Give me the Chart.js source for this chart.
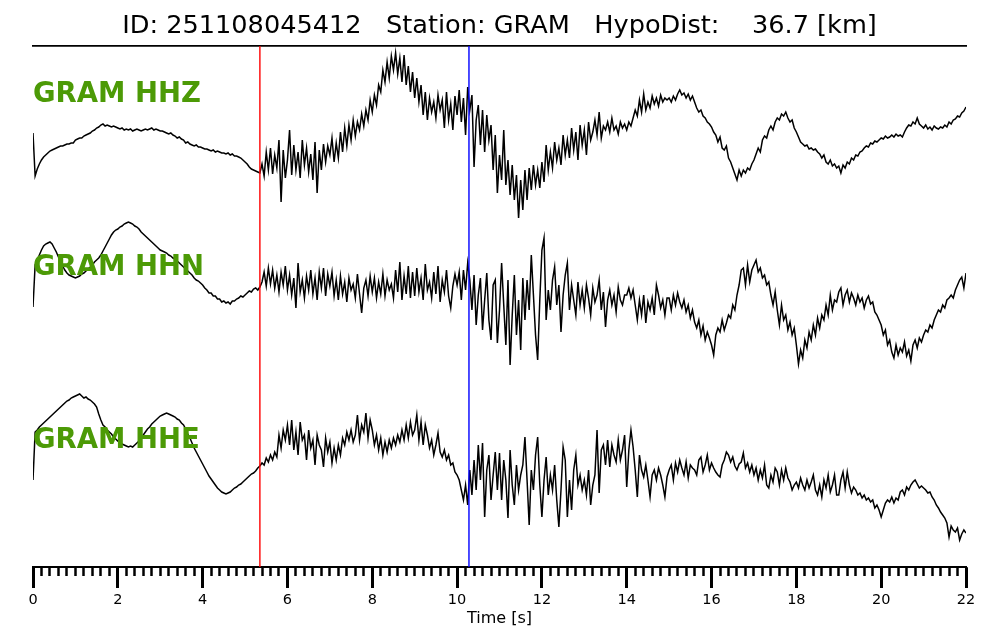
<!DOCTYPE html>
<html>
<head>
<meta charset="utf-8">
<script src="https://cdn.jsdelivr.net/npm/chart.js@4/dist/chart.umd.min.js"></script>
<style>
  html, body { margin: 0; padding: 0; background: #fff; }
  #wrap { width: 1000px; height: 640px; }
</style>
</head>
<body>
<div id="wrap"><canvas id="seismo" width="1000" height="640"></canvas></div>
<script>
// Evento / estacao
const eventId = '251108045412';
const station = 'GRAM';
const hypoDist = 36.7;

// Picks (s)
const pickP = 5.35;
const pickS = 10.28;

// Amostragem dos tracos (s)
const dt = 0.05;
const xMax = 22;
const timeTicks = [0, 2, 4, 6, 8, 10, 12, 14, 16, 18, 20, 22];

// Amplitudes (unidades relativas, positivo para cima), uma linha por segundo
const hhz = [
  7, -36, -29, -24, -20, -17, -15, -13, -11, -10, -9, -8, -7, -6, -6, -5, -4, -4, -3, -3,
  0, 1, 2, 2, 4, 5, 6, 7, 9, 10, 12, 13, 15, 16, 14, 15, 14, 13, 14, 13,
  12, 11, 12, 10, 11, 10, 11, 9, 10, 11, 10, 9, 10, 11, 10, 11, 12, 10, 11, 10,
  9, 9, 8, 7, 6, 7, 5, 4, 2, 3, 1, 0, -3, -2, -4, -5, -6, -5, -7, -7,
  -8, -9, -9, -10, -11, -10, -12, -11, -12, -13, -13, -14, -13, -15, -14, -16, -16, -17, -18, -20,
  -22, -24, -27, -29, -30, -31, -32, -33, -24, -36, -12, -30, -8, -34, -15, -28, 0, -62, -10, -38,
  -20, 10, -35, -5, -30, -12, -38, 0, -25, -8, -32, -14, -40, -2, -53, -10, -30, -4, -22, -6,
  -15, 2, -22, -3, -18, 8, -12, 12, -6, 15, 0, 20, 4, 18, 10, 26, 14, 30, 20, 40,
  28, 45, 35, 55, 48, 70, 58, 78, 62, 84, 70, 87, 66, 82, 58, 85, 55, 74, 48, 68,
  42, 62, 38, 55, 25, 48, 20, 42, 28, 38, 22, 45, 30, 40, 12, 48, 20, 36, 10, 44,
  25, 50, 18, 42, 5, 53, 30, 45, -27, 20, 35, -5, 30, -12, 25, 0, 15, -30, 5, -53,
  -15, -40, 10, -45, -20, -55, -25, -60, -35, -78, -40, -70, -30, -60, -28, -50, -25, -45, -30, -48,
  -22, -42, -5, -30, -12, -28, -2, -20, -8, -25, 5, -15, 0, -18, 12, -10, 8, -20, 15, -5,
  10, -15, 18, 0, 8, 20, 5, 28, 2, 14, 10, 18, 8, 22, 10, 14, 6, 18, 12, 16,
  10, 18, 14, 22, 30, 24, 40, 28, 46, 30, 38, 32, 44, 36, 42, 34, 45, 38, 42, 40,
  42, 38, 44, 40, 46, 50, 45, 47, 42, 46, 40, 44, 38, 32, 28, 30, 24, 22, 18, 16,
  13, 8, 5, -2, 3, -8, -10, -6, -18, -22, -28, -34, -40, -30, -36, -30, -33, -28, -30, -24,
  -20, -14, -8, -12, 0, 4, 2, 10, 14, 10, 18, 22, 20, 26, 24, 28, 22, 18, 20, 12,
  8, 3, -2, -4, -6, -5, -9, -8, -10, -9, -12, -14, -18, -15, -22, -24, -20, -26, -24, -28,
  -26, -33, -25, -28, -22, -24, -18, -20, -15, -16, -12, -11, -8, -6, -7, -3, -4, -1, -2, 0,
  2, 1, 4, 2, 3, 5, 3, 6, 4, 5, 3, 8, 12, 15, 14, 18, 16, 22, 16, 14,
  12, 15, 11, 13, 10, 14, 12, 11, 13, 12, 15, 13, 18, 16, 20, 21, 24, 23, 27, 29,
  33
];

const hhn = [
  -17, 25, 30, 35, 40, 44, 46, 47, 48, 46, 42, 38, 33, 28, 24, 20, 17, 15, 14, 13,
  12, 13, 14, 16, 17, 19, 21, 23, 25, 28, 30, 32, 35, 39, 43, 47, 51, 55, 58, 60,
  61, 63, 64, 66, 67, 68, 67, 66, 64, 63, 61, 58, 56, 54, 52, 50, 48, 46, 44, 42,
  40, 39, 38, 37, 35, 34, 32, 31, 29, 27, 25, 23, 21, 19, 17, 15, 12, 10, 9, 7,
  5, 2, 0, -3, -3, -6, -6, -9, -9, -12, -11, -13, -12, -14, -11, -11, -9, -8, -6, -7,
  -5, -3, -1, -2, 1, 2, 0, 3, 8, 18, 4, 22, 6, 20, 2, 15, -2, 18, 5, 24,
  0, 15, -5, 12, -18, 27, -2, 10, -8, 14, 0, 20, -4, 12, -10, 18, 2, 22, -6, 16,
  4, 18, -6, 10, -10, 14, -4, 8, -12, 12, 0, 6, -8, 16, -4, -23, 2, 10, -6, 14,
  -2, 12, -8, 8, -4, 16, -6, 10, 0, 6, -8, 20, -2, 28, -10, 14, -4, 24, -8, 18,
  -6, 22, -2, 12, -10, 26, 0, 8, -8, 18, -4, 24, -12, 10, -2, 20, -6, -18, 4, 16,
  5, 18, -10, 20, 0, 27, 10, -20, 15, -35, -5, 12, -40, -10, 17, -30, -50, 5, 10, -53,
  -20, 27, -15, -55, 10, -75, -25, 15, -45, -10, -60, 12, -30, 10, -20, 35, -5, -45, -70, -10,
  40, 52, -30, 0, -20, 10, 23, -15, 5, -42, -5, 15, 27, -20, 5, -10, -25, 8, -15, 0,
  -18, 5, -8, -25, 2, -12, -5, 10, -20, -2, -37, -10, 0, -15, -5, -22, 3, -10, -15, -5,
  -5, 2, -8, 0, -15, -30, -10, -25, -5, -33, -12, -20, -8, -25, 5, -5, -18, -10, -25, -8,
  -8, -20, -5, -15, -3, -12, -18, -10, -22, -15, -28, -20, -32, -38, -30, -45, -36, -50, -42, -48,
  -55, -65, -45, -38, -42, -30, -40, -33, -25, -28, -15, -20, -5, 5, 20, 22, 5, 25, 8, 20,
  25, 30, 18, 22, 12, 15, 5, 8, -5, -15, -2, -20, -35, -15, -30, -25, -40, -32, -45, -38,
  -55, -74, -60, -68, -50, -58, -42, -50, -35, -45, -28, -38, -25, -30, -15, -25, -5, -20, -10, -12,
  -2, 2, -15, -5, 0, -12, -3, -8, -15, -5, -12, -8, -18, -10, -6, -14, -12, -22, -25, -30,
  -35, -45, -40, -55, -50, -62, -68, -55, -65, -58, -62, -52, -66, -60, -71, -55, -50, -58, -48, -52,
  -45, -40, -42, -35, -38, -30, -25, -20, -22, -15, -18, -10, -8, -5, -8, 0, 5, 10, 13, 2,
  17
];

const hhe = [
  -20, 28, 30, 33, 35, 37, 39, 41, 43, 45, 47, 49, 51, 53, 55, 57, 59, 60, 62, 63,
  64, 65, 66, 64, 62, 63, 61, 60, 58, 56, 53, 46, 40, 35, 33, 30, 28, 26, 23, 21,
  19, 18, 16, 15, 14, 13, 14, 13, 15, 17, 19, 22, 25, 28, 31, 33, 36, 38, 40, 42,
  44, 45, 46, 47, 46, 45, 44, 43, 41, 40, 37, 35, 31, 26, 22, 17, 12, 8, 4, 0,
  -4, -8, -12, -16, -19, -22, -25, -28, -30, -32, -33, -34, -33, -32, -30, -28, -27, -25, -24, -22,
  -20, -18, -16, -14, -13, -11, -8, -6, -3, -5, 2, -2, 5, 0, 8, 3, 25, 12, 30, 20,
  35, 15, 40, 10, 28, 5, 38, 20, 25, 0, 30, 12, 20, -5, 25, 15, 10, -7, 22, 8,
  18, -3, 12, 0, 15, 5, 22, 15, 28, 20, 30, 18, 25, 45, 20, 35, 28, 47, 22, 40,
  30, 15, 25, 10, 22, 5, 18, 8, 20, 12, 22, 15, 25, 18, 30, 20, 35, 22, 38, 25,
  30, 45, 20, 38, 15, 35, 25, 12, 20, 5, 15, 27, 8, 3, 10, 0, 5, -5, -3, -12,
  -15, -20, -30, -40, -25, -45, -10, -35, 0, -30, 15, -20, 17, -57, -10, 5, -40, -15, 8, -30,
  7, -40, 0, -20, -58, 10, -25, -45, -5, -30, -15, -5, 23, -20, -65, -10, -30, 5, 23, -25,
  -57, -20, 3, -35, -15, -30, -5, -40, -67, -30, 13, 0, -57, -20, -50, -10, 5, -25, -15, -30,
  -20, -35, -10, -45, -25, -15, 30, -33, 10, 15, -5, 20, -7, 15, 5, -2, 20, 0, 10, 25,
  -27, 10, 30, 13, -10, -37, 5, -10, -17, -5, -20, -37, -15, -10, -20, -8, -15, -25, -37, -17,
  -10, -5, -20, -3, -12, 0, -8, -15, -2, -18, -5, -8, -10, -15, 0, 3, -12, -5, 5, -10,
  -3, -8, -12, -15, -17, -5, 0, 8, 5, -2, 3, -6, -10, -4, -2, 7, -8, -3, -12, -5,
  -15, -8, -20, -10, -18, -5, -25, -28, -15, -22, -8, -12, -25, -10, -20, -8, -18, -22, -30, -25,
  -22, -28, -18, -25, -30, -20, -28, -22, -15, -30, -35, -25, -37, -20, -28, -15, -32, -25, -15, -35,
  -35, -20, -12, -28, -12, -25, -33, -27, -30, -35, -33, -38, -35, -40, -38, -42, -40, -48, -45, -50,
  -57, -50, -43, -40, -42, -37, -43, -38, -40, -32, -30, -35, -27, -30, -25, -22, -20, -24, -28, -26,
  -28, -30, -33, -32, -37, -40, -45, -48, -52, -55, -58, -63, -77, -66, -70, -72, -68, -80, -74, -70,
  -73
];

// Posicao vertical de cada traco e do seu rotulo (unidades do eixo y)
const yMax = 521;
const traces = [
  { name: `${station} HHZ`, amp: hhz, offset: 427, labelAt: 465.3 },
  { name: `${station} HHN`, amp: hhn, offset: 277, labelAt: 292 },
  { name: `${station} HHE`, amp: hhe, offset: 107, labelAt: 118.7 }
];

const FONT = '"DejaVu Sans", "Liberation Sans", sans-serif';

const pickLine = (t, color) => ({
  data: [{ x: t, y: 0 }, { x: t, y: yMax }],
  borderColor: color,
  borderWidth: 1.4,
  pointRadius: 0
});

const datasets = [
  pickLine(pickP, '#ff0000'),
  pickLine(pickS, '#0000ff'),
  ...traces.map(tr => ({
    data: tr.amp.map((v, i) => ({ x: i * dt, y: v + tr.offset })),
    borderColor: '#000000',
    borderWidth: 1.5,
    pointRadius: 0,
    tension: 0
  }))
];

// Rotulos verdes das componentes
const traceLabels = {
  id: 'traceLabels',
  afterDatasetsDraw(chart) {
    const { ctx, scales: { x, y } } = chart;
    ctx.save();
    ctx.font = `bold 27.5px ${FONT}`;
    ctx.fillStyle = '#4c9a06';
    ctx.textBaseline = 'alphabetic';
    ctx.textAlign = 'left';
    traces.forEach(tr => ctx.fillText(tr.name, x.getPixelForValue(0), y.getPixelForValue(tr.labelAt)));
    ctx.restore();
  }
};

new Chart(document.getElementById('seismo').getContext('2d'), {
  type: 'line',
  data: { datasets },
  options: {
    responsive: false,
    animation: false,
    events: [],
    layout: { padding: { left: 33, right: 34, top: 0, bottom: 13.5 } },
    plugins: {
      legend: { display: false },
      tooltip: { enabled: false },
      title: {
        display: true,
        text: `ID: ${eventId}   Station: ${station}   HypoDist:    ${hypoDist.toFixed(1)} [km]`,
        color: '#000',
        font: { family: FONT, size: 25.6, weight: 'normal', lineHeight: 1.2 },
        padding: { top: 11, bottom: 4.3 }
      }
    },
    scales: {
      x: {
        type: 'linear',
        position: 'bottom',
        min: 0,
        max: xMax,
        afterBuildTicks: (axis) => { axis.ticks = timeTicks.map(v => ({ value: v })); },
        ticks: {
          color: '#000',
          font: { family: FONT, size: 14.5, lineHeight: 1 },
          padding: 5,
          maxRotation: 0,
          autoSkip: false
        },
        grid: { drawOnChartArea: false, tickLength: 21, tickWidth: 3, tickColor: '#000' },
        border: { display: true, color: '#000', width: 2 },
        title: {
          display: true,
          text: 'Time [s]',
          color: '#000',
          font: { family: FONT, size: 16, lineHeight: 1 },
          padding: { top: -2, bottom: 0 }
        }
      },
      xMinor: {
        type: 'linear',
        axis: 'x',
        position: { y: 0 },
        min: 0,
        max: xMax,
        ticks: { display: false, stepSize: 0.2, autoSkip: false },
        grid: { drawOnChartArea: false, tickLength: 9, tickWidth: 2.5, tickColor: '#000' },
        border: { display: false }
      },
      xTop: {
        type: 'linear',
        axis: 'x',
        position: 'top',
        min: 0,
        max: xMax,
        ticks: { display: false },
        grid: { drawOnChartArea: false, drawTicks: false },
        border: { display: true, color: '#000', width: 1.7 }
      },
      y: { type: 'linear', min: 0, max: yMax, display: false }
    }
  },
  plugins: [traceLabels]
});
</script>
</body>
</html>
